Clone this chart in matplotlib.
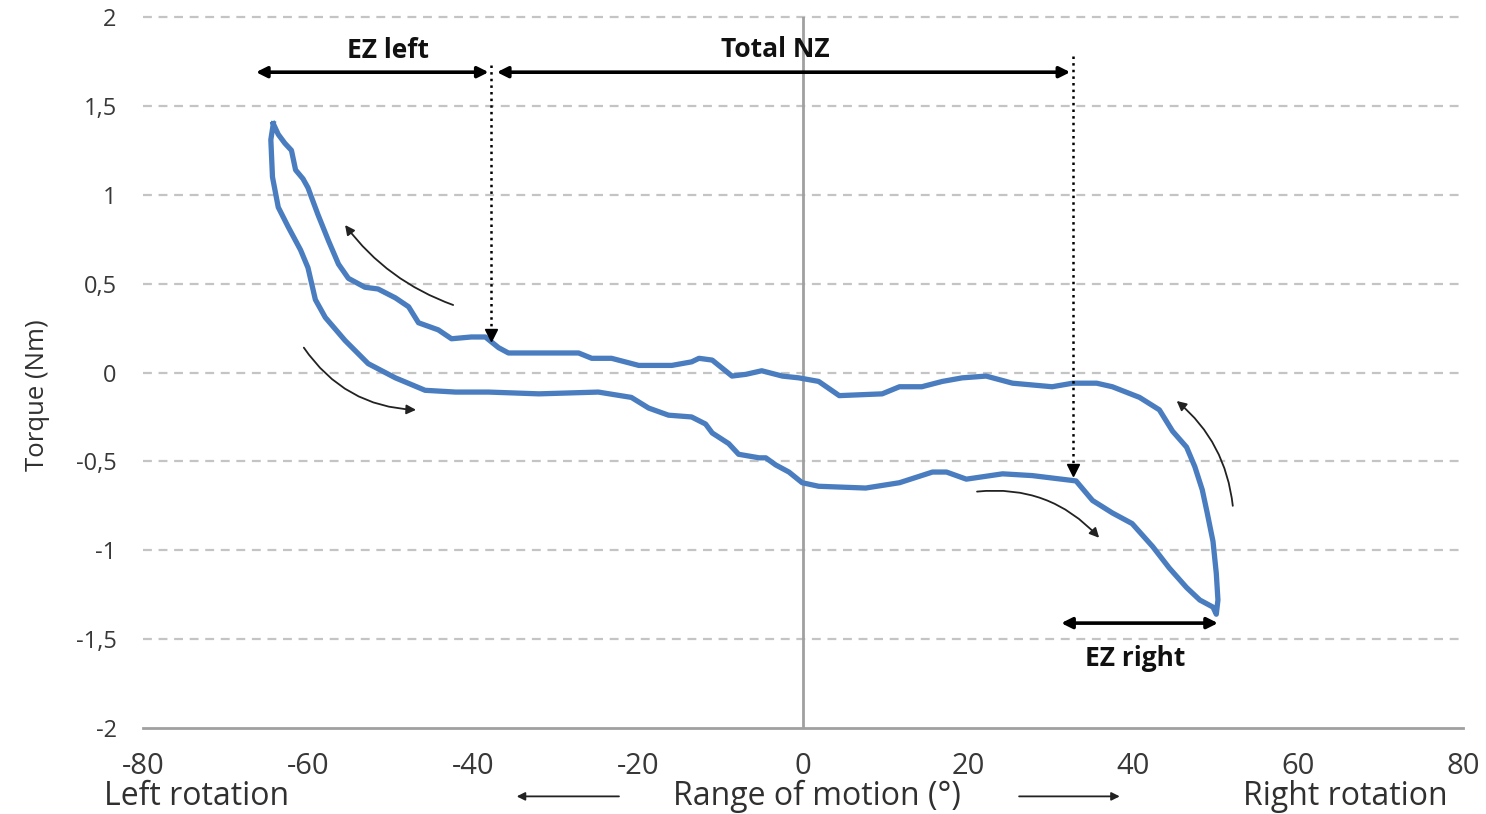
import matplotlib.pyplot as plt

plt.rcParams["font.family"] = ["Open Sans", "DejaVu Sans"]
plt.rcParams["axes.unicode_minus"] = False

# loading branch: from left peak down to right end
lower_x = [-64.2, -64.5, -64.3, -63.6, -62.4, -60.9, -60.0, -59.1, -57.9, -55.5,
           -52.7, -49.4, -45.8, -42.1, -38.1, -32.0, -24.8, -20.8, -18.7, -16.3,
           -13.5, -11.8, -11.0, -9.0, -7.8, -5.3, -4.5, -3.3, -1.7, -0.1,
           1.9, 7.6, 11.7, 15.7, 17.4, 19.8, 24.2, 27.8, 33.1, 35.1,
           37.5, 39.9, 42.4, 44.4, 46.5, 48.1, 49.7, 50.1]
lower_y = [1.40, 1.31, 1.10, 0.93, 0.82, 0.69, 0.59, 0.41, 0.31, 0.18,
           0.05, -0.03, -0.10, -0.11, -0.11, -0.12, -0.11, -0.14, -0.20, -0.24,
           -0.25, -0.29, -0.34, -0.40, -0.46, -0.48, -0.48, -0.52, -0.56, -0.62,
           -0.64, -0.65, -0.62, -0.56, -0.56, -0.60, -0.57, -0.58, -0.61, -0.72,
           -0.79, -0.85, -0.98, -1.10, -1.21, -1.28, -1.32, -1.36]

# unloading branch: from right end back up to left peak
upper_x = [50.3, 50.1, 49.7, 49.0, 48.4, 47.5, 46.5, 44.8, 43.2, 40.8,
           37.5, 35.6, 32.7, 30.2, 25.4, 22.2, 19.3, 16.9, 14.4, 11.7,
           9.6, 4.4, 1.9, -0.5, -2.5, -5.0, -6.9, -8.6, -11.0, -12.6,
           -13.5, -15.9, -19.9, -23.2, -25.6, -27.2, -30.0, -32.9, -35.7, -36.9,
           -38.5, -40.2, -42.6, -44.2, -46.6, -47.8, -49.4, -51.5, -53.1, -55.1,
           -56.3, -57.5, -58.8, -60.0, -60.6, -61.5, -62.0, -62.8, -63.6, -64.2]
upper_y = [-1.28, -1.13, -0.95, -0.79, -0.66, -0.53, -0.42, -0.33, -0.21, -0.14,
           -0.08, -0.06, -0.06, -0.08, -0.06, -0.02, -0.03, -0.05, -0.08, -0.08,
           -0.12, -0.13, -0.05, -0.03, -0.02, 0.01, -0.01, -0.02, 0.07, 0.08,
           0.06, 0.04, 0.04, 0.08, 0.08, 0.11, 0.11, 0.11, 0.11, 0.14,
           0.20, 0.20, 0.19, 0.24, 0.28, 0.37, 0.42, 0.47, 0.48, 0.53,
           0.61, 0.74, 0.89, 1.04, 1.09, 1.14, 1.25, 1.29, 1.34, 1.40]

x_ticks = [-80, -60, -40, -20, 0, 20, 40, 60, 80]
y_ticks = [2, 1.5, 1, 0.5, 0, -0.5, -1, -1.5, -2]
y_tick_labels = ["2", "1,5", "1", "0,5", "0", "-0,5", "-1", "-1,5", "-2"]

# zone boundaries (deg) and span arrows
ez_left_start, nz_start, nz_end, ez_right_end = -66.3, -37.8, 32.7, 50.3

fig = plt.figure(figsize=(14.86, 8.14), dpi=100)
ax = fig.add_axes([0.0962, 0.1057, 0.8883, 0.8733])
ax.set_xlim(-80, 80)
ax.set_ylim(-2, 2)

for yv in y_ticks[:-1]:
    ax.axhline(yv, color="#c4c4c4", lw=1.6, ls=(0, (4, 3)), clip_on=False, zorder=0)
ax.axhline(-2, color="#a0a0a0", lw=2, clip_on=False, zorder=1)
ax.axvline(0, color="#a0a0a0", lw=2, zorder=1)

for s in ax.spines.values():
    s.set_visible(False)
ax.set_xticks(x_ticks)
ax.set_yticks(y_ticks)
ax.set_yticklabels(y_tick_labels)
ax.tick_params(length=0, labelcolor="#383838")
ax.tick_params(axis="y", pad=19, labelsize=17)
ax.tick_params(axis="x", pad=17, labelsize=21)

ax.plot(lower_x + upper_x, lower_y + upper_y, color="#4a7dbf", lw=3.8,
        solid_joinstyle="round", zorder=3)

# dotted boundary lines with heads
ax.plot([nz_start, nz_start], [1.73, 0.21], color="black", lw=1.8, ls=":", zorder=4)
ax.plot([nz_start], [0.21], marker="v", color="black", ms=8, zorder=4)
ax.plot([nz_end, nz_end], [1.78, -0.55], color="black", lw=1.8, ls=":", zorder=4)
ax.plot([nz_end], [-0.55], marker="v", color="black", ms=8, zorder=4)

span = dict(arrowstyle="<|-|>", color="black", lw=2.6, mutation_scale=16,
            shrinkA=0, shrinkB=0)
ax.annotate("", xy=(nz_start - 0.3, 1.69), xytext=(ez_left_start, 1.69), arrowprops=span)
ax.annotate("", xy=(nz_end - 0.3, 1.69), xytext=(nz_start + 0.7, 1.69), arrowprops=span)
ax.annotate("", xy=(ez_right_end, -1.41), xytext=(31.3, -1.41), arrowprops=span)

bold = dict(fontsize=19, fontweight="bold", color="#111111", ha="center", va="center")
ax.text(-50.3, 1.81, "EZ left", **bold)
ax.text(-3.3, 1.82, "Total NZ", **bold)
ax.text(40.3, -1.61, "EZ right", **bold)

# direction arrows along the loop
thin = dict(arrowstyle="-|>", color="#222222", lw=1.3, mutation_scale=14,
            shrinkA=0, shrinkB=0)
ax.annotate("", xy=(-55.5, 0.83), xytext=(-42.4, 0.38),
            arrowprops=dict(thin, connectionstyle="arc3,rad=-0.15"))
ax.annotate("", xy=(-46.9, -0.21), xytext=(-60.5, 0.14),
            arrowprops=dict(thin, connectionstyle="arc3,rad=0.25"))
ax.annotate("", xy=(35.9, -0.93), xytext=(21.1, -0.67),
            arrowprops=dict(thin, connectionstyle="arc3,rad=-0.25"))
ax.annotate("", xy=(45.3, -0.16), xytext=(52.1, -0.75),
            arrowprops=dict(thin, connectionstyle="arc3,rad=0.2"))

# bottom captions
cap = dict(fontsize=23, color="#303030", ha="center", va="center", clip_on=False)
ax.text(-73.5, -2.385, "Left rotation", **cap)
ax.text(1.7, -2.385, "Range of motion (°)", **cap)
ax.text(65.7, -2.385, "Right rotation", **cap)
flat = dict(arrowstyle="-|>", color="#222222", lw=1.3, mutation_scale=12,
            shrinkA=0, shrinkB=0)
ax.annotate("", xy=(-34.7, -2.385), xytext=(-22.3, -2.385), arrowprops=flat,
            annotation_clip=False)
ax.annotate("", xy=(38.4, -2.385), xytext=(26.2, -2.385), arrowprops=flat,
            annotation_clip=False)

fig.text(38 / 1486, 1 - 395 / 814, "Torque (Nm)", rotation=90, fontsize=18.5,
         color="#303030", ha="center", va="center")

fig.savefig("out.png", dpi=100)
